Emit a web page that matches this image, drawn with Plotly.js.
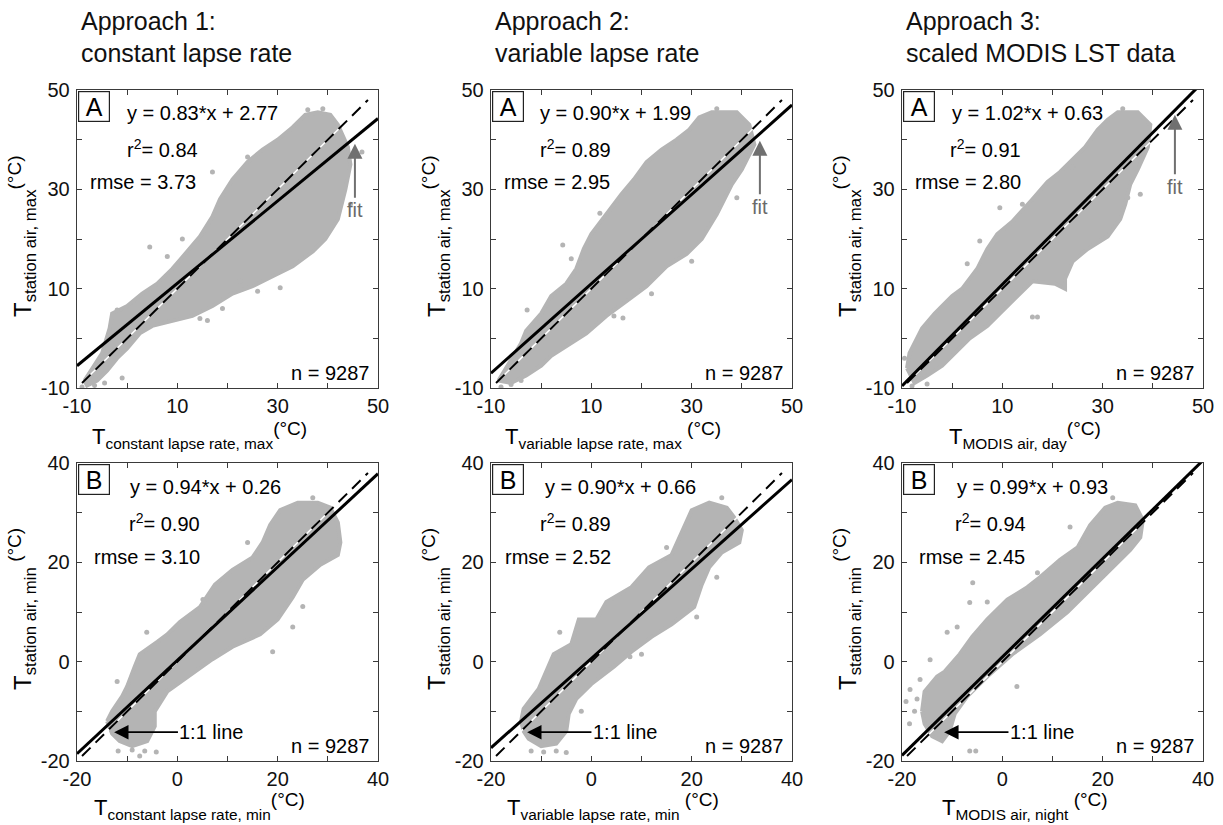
<!DOCTYPE html>
<html>
<head>
<meta charset="utf-8">
<script src="https://cdn.plot.ly/plotly-3.0.1.min.js"></script>
<style>html,body{margin:0;padding:0;background:#fff;}#chart{width:1223px;height:825px;}</style>
</head>
<body>
<div id="chart"></div>
<script>
// ---------------- DATA ----------------
const colTitles1 = ["Approach 1:", "Approach 2:", "Approach 3:"];
const colTitles2 = ["constant lapse rate", "variable lapse rate", "scaled MODIS LST data"];
const panelLetters = ["A", "A", "A", "B", "B", "B"];
const unitTxt = "<sup><span style='font-size:19px'>(°C)</span></sup>";
const unitTxtSp = "<sup><span style='font-size:19px'> (°C)</span></sup>";
const xTitleSubs = ["constant lapse rate, max", "variable lapse rate, max", "MODIS air, day",
                    "constant lapse rate, min", "variable lapse rate, min", "MODIS air, night"];
const xTitleSpace = [false, true, false, false, true, true];
const yTitleSubs = ["station air, max", "station air, max", "station air, max",
                    "station air, min", "station air, min", "station air, min"];
const yTitleSpace = [false, false, false, true, true, true];
const fitSlope = [0.83, 0.90, 1.02, 0.94, 0.90, 0.99];
const fitIntercept = [2.77, 1.99, 0.63, 0.26, 0.66, 0.93];
const eqText = ["y = 0.83*x + 2.77", "y = 0.90*x + 1.99", "y = 1.02*x + 0.63",
                "y = 0.94*x + 0.26", "y = 0.90*x + 0.66", "y = 0.99*x + 0.93"];
const r2Values = ["0.84", "0.89", "0.91", "0.90", "0.89", "0.94"];
const rmseValues = ["3.73", "2.95", "2.80", "3.10", "2.52", "2.45"];
const nCount = "9287";

// axis ranges and tick labels
const rangeTop = [-10, 50];
const rangeBottom = [-20, 40];
const ticksTop = [-10, 10, 30, 50];
const ticksBottom = [-20, 0, 20, 40];
// 1:1 line spans
const oneToOneTop = [-9, 48];
const oneToOneBottom = [-19, 38];

// "fit" arrows: tip x, tip y, label y (top row)
const fitArrowX = [45.4, 43.6, 44.4];
const fitArrowTipY = [39.2, 39.8, 45.0];
const fitLabelY = [25.8, 26.5, 30.5];
// "1:1 line" arrows: tip x, label centre x, y (bottom row)
const oneArrowTipX = [-12.6, -12.8, -11.6];
const oneLabelX = [6.9, 6.8, 8.0];
const oneArrowY = [-14.2, -14.2, -14.2];

// point clouds: outline of the dense cloud (x,y) and isolated points
const cloudA1 = [[-8.5,-8.5],[-7,-6],[-5,-3],[-3.5,2],[-3,5],[0,6.5],[3,9],[6,11],[9,14],[12,17.5],[14.5,20.5],[17,24.5],[18.5,28],[21,32],[24,35.5],[27,38],[30,40],[33,42.5],[35.5,45],[38,45.5],[40.5,45],[42,43],[44,38.5],[44.5,35],[43.5,30],[42,24],[39.5,20],[37,17.5],[33,14.5],[29,12.5],[25,10.5],[21,9],[17,6.5],[13,4.5],[9,3.5],[5,2.5],[2.5,1],[0,-2],[-2,-4],[-4,-6.5],[-6,-8.5],[-8,-9.5]];
const outA1 = [[-2,5.7],[4.5,18.4],[17,33.5],[24,36.5],[14.5,4],[16,3.6],[22.5,11.5],[30.5,10.2],[46.8,37.5],[-9,-9.8],[-6.5,-9.5],[-4.5,-9],[-1,-8],[8,16.5],[11,20],[36,46],[39,46.2],[44.5,27],[26,9.5],[19,6]];
const cloudA2 = [[-8.5,-8.5],[-7,-6],[-4,-1],[-3,1.5],[0,5],[2,8.5],[5,11],[7,14],[8.5,18],[10,21],[13,25],[16,29],[18.5,32],[21,35.5],[24,38],[27,40],[29.5,42],[31.5,44.5],[34,45.5],[39,45.5],[41.5,43],[42.5,39],[40,34],[38,31],[36.5,28],[35,25],[32,20],[29,17],[25,14.5],[21,10.5],[17,7.5],[13,4.5],[9,1],[5,-1.5],[2,-3.5],[0,-5.5],[-3,-7.5],[-6,-9]];
const outA2 = [[-2.8,5.7],[4.3,18.8],[11.7,25.2],[26.3,39.3],[39,28.3],[16.3,4.1],[14.5,4.5],[-4,-8.5],[-6,-9.3],[-8,-9.8],[6,16],[15,27],[35,46.2],[22,9],[30,15.5]];
const cloudA3 = [[-9,-6],[-8.5,-3],[-6,2],[-3.5,5],[0,8.5],[2,10],[5,14],[7,18],[9,21],[12,23.5],[16,28],[19,31.5],[21.5,33.5],[24,36],[26.5,38.5],[29,42],[31,44],[33,45.5],[37,45.5],[39.5,43],[39,38.5],[37,34],[35.5,31],[34.5,27],[33.5,24],[31,20.5],[27,18],[24,15.5],[22.5,12],[22.5,10],[20.5,11],[16,11.5],[13,8.5],[10,5.5],[7,2.5],[3.5,0],[1,-2.5],[-2,-5.5],[-5,-7.5],[-7.5,-9]];
const outA3 = [[9.5,26.3],[5.5,19.6],[24,34.5],[35,28.3],[16,4.3],[17,4.3],[-7.5,-8],[-5,-9.2],[-8,-9.6],[3,15],[14,27],[34,46.2],[37.5,29],[-9.5,-4]];
const cloudB1 = [[-14,-12],[-13,-10],[-11,-7],[-10,-5],[-8.5,-1],[-7.5,1.5],[-4,4],[-2,5.5],[0.5,8],[4.5,11],[7.5,15.5],[11,18.5],[15,21],[17,24],[18.5,27.5],[20.5,30.5],[24,32],[28,32],[30.5,31],[32,28],[32.5,24],[32,21.5],[28.5,19.5],[25,16.5],[23,13],[20,8.5],[16.5,5.5],[11,3],[7,0.5],[2,-3],[-2,-6],[-4.5,-10],[-4.5,-13],[-6,-16],[-9,-17],[-11.5,-16],[-13,-14.5]];
const outB1 = [[-6.1,5.9],[5.1,12.5],[25,11.1],[19,2],[-11.8,-18],[-9,-17.8],[-6.5,-18],[-4.2,-18.2],[-7.5,-19],[-12,-4],[14,24],[27,33],[23,7]];
const cloudB2 = [[-14,-12],[-13.5,-9.5],[-10.5,-5.5],[-8.5,-1],[-7.5,1.5],[-4,3.5],[-2.5,8.5],[1,8.5],[3,12],[8,15],[11.5,19],[16,21.5],[18,26],[20,30.5],[23.5,32],[27,31],[28.5,29],[30,26.5],[29.5,24],[26,22],[23.5,19],[22,15.5],[20.5,11],[16,7.5],[12,5],[8,2],[4.5,-1],[0,-4.5],[-3,-7.5],[-4.5,-10.5],[-5,-14],[-7,-16.5],[-10,-17],[-12.5,-15.5],[-13.5,-14]];
const outB2 = [[-6.3,5.9],[7.7,1],[10,1.5],[21,9],[-12,-18],[-9.5,-18.2],[-7,-18],[-5,-18.3],[-2,-10],[15,23],[26,33],[25,17]];
const cloudB3 = [[-16,-10],[-15.5,-6],[-13,-3],[-11.5,-2],[-8.5,1.5],[-6,5],[-3,8.5],[1,12.5],[5,15],[7.5,17],[11.5,20.5],[15,23],[17.5,27.5],[20.5,31],[23,32],[26.5,31.5],[28,28.5],[27.5,25],[25.5,22.5],[22,19],[18,15],[13,10],[7.5,5.5],[2,1.5],[-3,-3],[-7,-7],[-9.5,-10.5],[-10.5,-14],[-12,-16],[-14,-15],[-15.5,-12.5]];
const outB3 = [[-5.9,15.9],[-6.5,11.9],[-11,5.9],[-14.4,0.4],[-16.4,-3.6],[-18.4,-5.6],[-19.2,-8],[-17.5,-10],[-18.5,-12.5],[-17,-7.5],[2.9,-5],[13.5,27.1],[7,17.9],[-5.3,-18],[-6.5,-18],[-9,7],[-3,12],[22,33]];

const clouds = [cloudA1, cloudA2, cloudA3, cloudB1, cloudB2, cloudB3];
const outliers = [outA1, outA2, outA3, outB1, outB2, outB3];

// ---------------- LAYOUT GEOMETRY (pixels) ----------------
const W = 1223, H = 825;
const colLeft = [77, 491, 902];
const panelW = 301;
const rowTop = [90, 463];
const panelH = 298;
const xTitleGap = [47, 45];
const FONT = "Liberation Sans, Arial, Helvetica, sans-serif";
const GRAY = "rgb(180,180,180)";
const AX = "#3a3a3a";

const px = v => v / W;
const py = v => 1 - v / H;

const data = [];
const layout = {
  width: W, height: H,
  margin: {l: 0, r: 0, t: 0, b: 0},
  paper_bgcolor: "#fff", plot_bgcolor: "#fff",
  showlegend: false,
  font: {family: FONT, color: "#000"},
  annotations: []
};

for (let p = 0; p < 6; p++) {
  const row = p < 3 ? 0 : 1;
  const col = p % 3;
  const idx = p === 0 ? "" : String(p + 1);
  const xa = "x" + idx, ya = "y" + idx;
  const range = row === 0 ? rangeTop : rangeBottom;
  const tv = row === 0 ? ticksTop : ticksBottom;
  const L = colLeft[col], T = rowTop[row];

  const axisBase = {
    range: range.slice(),
    tickmode: "array",
    tickvals: tv,
    ticktext: tv.map(v => String(v)),
    ticks: "inside", ticklen: 5, tickwidth: 1, tickcolor: AX,
    minor: {tickmode: "linear", tick0: range[0], dtick: 10, ticks: "inside", ticklen: 5, tickcolor: AX, showgrid: false},
    showline: true, linecolor: AX, linewidth: 1.3, mirror: "ticks",
    showgrid: false, zeroline: false,
    tickfont: {family: FONT, size: 20, color: "#111"},
    fixedrange: true
  };
  layout["xaxis" + idx] = Object.assign({}, axisBase, {
    domain: [px(L), px(L + panelW)], anchor: ya
  });
  layout["yaxis" + idx] = Object.assign({}, axisBase, {
    domain: [py(T + panelH), py(T)], anchor: xa, ticklabelstandoff: 2
  });

  // cloud outline
  const c = clouds[p];
  data.push({
    type: "scatter", mode: "lines", xaxis: xa, yaxis: ya,
    x: c.map(d => d[0]).concat([c[0][0]]), y: c.map(d => d[1]).concat([c[0][1]]),
    fill: "toself", fillcolor: GRAY, line: {color: GRAY, width: 4},
    hoverinfo: "skip"
  });
  const o = outliers[p];
  data.push({
    type: "scatter", mode: "markers", xaxis: xa, yaxis: ya,
    x: o.map(d => d[0]), y: o.map(d => d[1]),
    marker: {color: GRAY, size: 5}, hoverinfo: "skip"
  });
  // 1:1 line
  const s = row === 0 ? oneToOneTop : oneToOneBottom;
  data.push({type: "scatter", mode: "lines", xaxis: xa, yaxis: ya, x: s, y: s,
    line: {color: "#fff", width: 1.5}, hoverinfo: "skip"});
  data.push({type: "scatter", mode: "lines", xaxis: xa, yaxis: ya, x: s, y: s,
    line: {color: "#000", width: 2, dash: "12px,7px"}, hoverinfo: "skip"});
  // fit line
  const fx = range.slice();
  data.push({type: "scatter", mode: "lines", xaxis: xa, yaxis: ya,
    x: fx, y: fx.map(v => fitSlope[p] * v + fitIntercept[p]),
    line: {color: "#000", width: 3}, hoverinfo: "skip"});

  const A = layout.annotations;
  // panel letter box
  A.push({xref: "paper", yref: "paper", x: px(L + 1), y: py(T + 1), xanchor: "left", yanchor: "top",
    text: panelLetters[p], showarrow: false, font: {size: 25, family: FONT, color: "#000"},
    bgcolor: "#fff", bordercolor: "#222", borderwidth: 1.2, borderpad: 0, width: 30, height: 29,
    align: "center", valign: "middle"});
  const relEq = row === 0 ? [48, 47, 48] : [51, 52, 53];
  const relR2 = row === 0 ? [48, 47, 46] : [50, 47, 51];
  const relRm = row === 0 ? [11, 11, 11] : [15, 12, 15];
  const dy = row === 0 ? [23, 58, 92] : [24, 59, 94];
  const statFont = {size: 20, family: FONT, color: "#000"};
  A.push({xref: "paper", yref: "paper", x: px(L + relEq[col]), y: py(T + dy[0]), xanchor: "left", yanchor: "middle",
    text: eqText[p], showarrow: false, font: statFont});
  A.push({xref: "paper", yref: "paper", x: px(L + relR2[col]), y: py(T + dy[1]), xanchor: "left", yanchor: "middle",
    text: "r<sup>2</sup>= " + r2Values[p], showarrow: false, font: statFont});
  A.push({xref: "paper", yref: "paper", x: px(L + relRm[col]), y: py(T + dy[2]), xanchor: "left", yanchor: "middle",
    text: "rmse = " + rmseValues[p], showarrow: false, font: statFont});
  A.push({xref: "paper", yref: "paper", x: px(L + panelW - 7), y: py(T + panelH - 15), xanchor: "right", yanchor: "middle",
    text: "n = " + nCount, showarrow: false, font: statFont});
  // axis titles
  const xt = "T<sub>" + xTitleSubs[p] + "</sub>" + (xTitleSpace[p] ? unitTxtSp : unitTxt);
  const yt = "T<sub>" + yTitleSubs[p] + "</sub>" + (yTitleSpace[p] ? unitTxtSp : unitTxt);
  A.push({xref: "paper", yref: "paper", x: px(L + panelW / 2 - 28), y: py(T + panelH + xTitleGap[row]), xanchor: "center", yanchor: "middle",
    text: xt, showarrow: false, font: {size: 22, family: FONT, color: "#000"}});
  A.push({xref: "paper", yref: "paper", x: px(L - 55), y: py(T + panelH / 2 - 3), xanchor: "center", yanchor: "middle",
    text: yt, textangle: -90, showarrow: false, font: {size: 24, family: FONT, color: "#000"}});

  if (row === 0) {
    A.push({xref: xa, yref: ya, axref: xa, ayref: ya, x: fitArrowX[col], y: fitArrowTipY[col],
      ax: fitArrowX[col], ay: fitLabelY[col], text: "fit", showarrow: true,
      arrowhead: 2, arrowsize: 1.5, arrowwidth: 2, arrowcolor: "#707070", standoff: 0, startstandoff: 0,
      font: {size: 20, family: FONT, color: "#6a6a6a"}});
  } else {
    A.push({xref: xa, yref: ya, axref: xa, ayref: ya, x: oneArrowTipX[col], y: oneArrowY[col],
      ax: oneLabelX[col], ay: oneArrowY[col], text: "1:1 line", showarrow: true,
      arrowhead: 2, arrowsize: 1.6, arrowwidth: 1.8, arrowcolor: "#000", standoff: 0,
      font: {size: 20, family: FONT, color: "#000"}});
  }
}

// column titles
for (let c = 0; c < 3; c++) {
  layout.annotations.push({xref: "paper", yref: "paper", x: px(colLeft[c] + 2), y: py(21), xanchor: "left", yanchor: "middle",
    text: colTitles1[c], showarrow: false, font: {size: 25, family: FONT, color: "#111"}});
  layout.annotations.push({xref: "paper", yref: "paper", x: px(colLeft[c] + 2), y: py(53), xanchor: "left", yanchor: "middle",
    text: colTitles2[c], showarrow: false, font: {size: 25, family: FONT, color: "#111"}});
}

Plotly.newPlot("chart", data, layout, {staticPlot: true, displayModeBar: false});
</script>
</body>
</html>
